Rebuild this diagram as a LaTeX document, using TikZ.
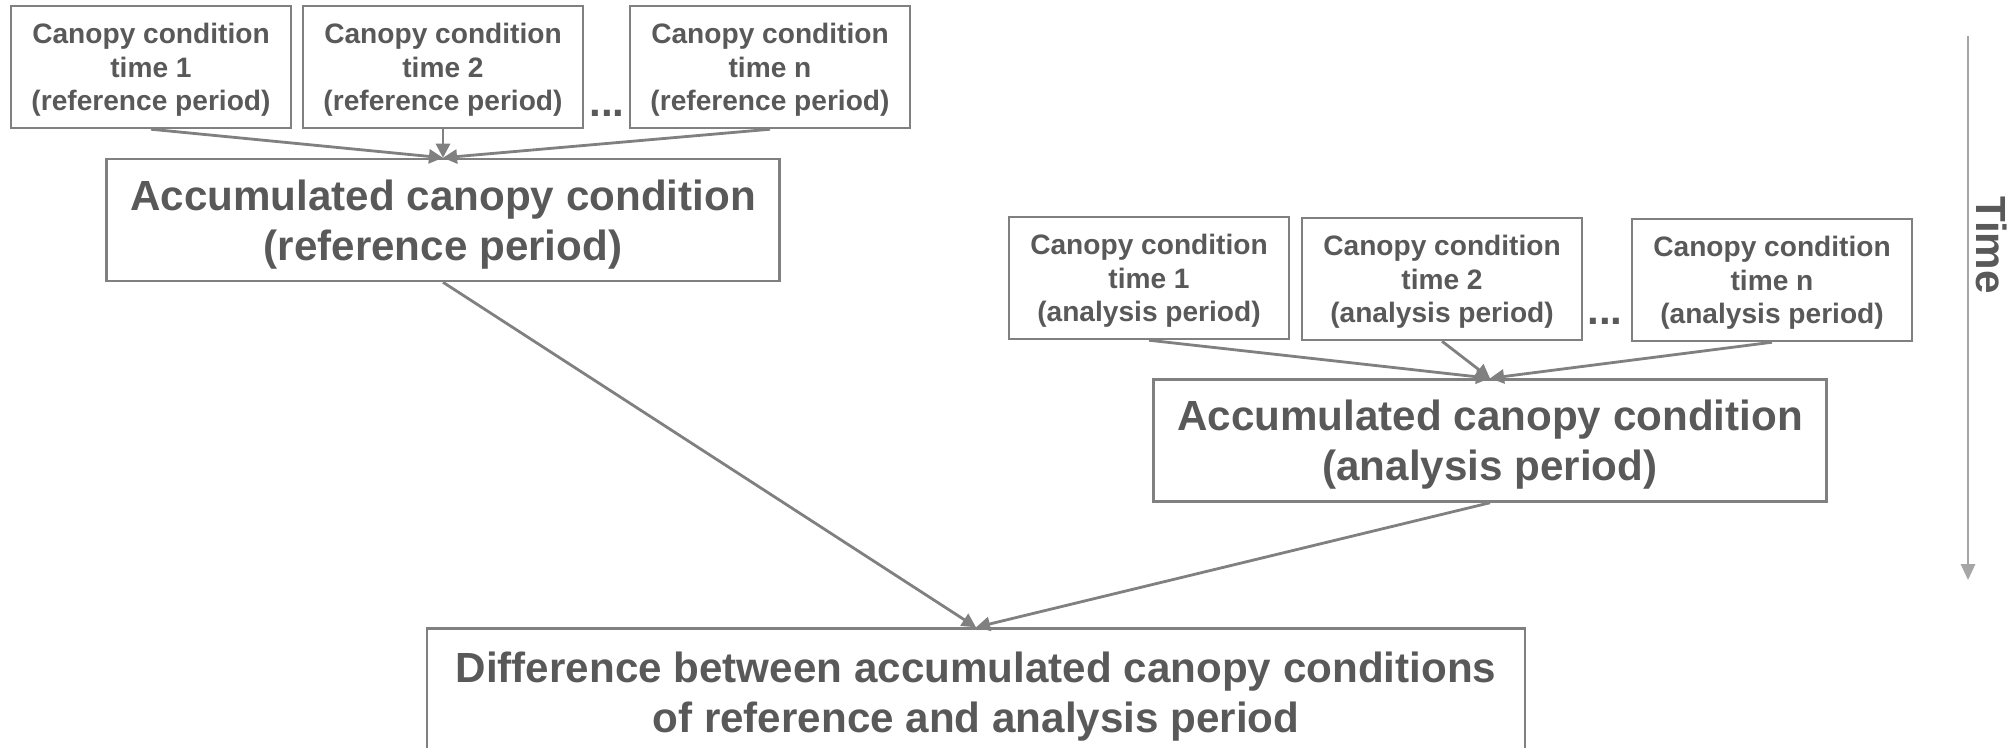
\documentclass[tikz,border=0pt]{standalone}
\usepackage{fontspec}
\setmainfont{Liberation Sans}
\usepackage{xcolor}
\usepackage{tikz}
\usetikzlibrary{shapes,arrows.meta,positioning,calc}
\definecolor{textgray}{RGB}{89,89,89}
\definecolor{linegray}{RGB}{128,128,128}
\definecolor{timegray}{RGB}{166,166,166}

\begin{document}
\begin{tikzpicture}[
    smallbox/.style={draw=linegray, line width=0.7pt, rectangle, minimum width=2.8cm, minimum height=1.22cm, align=center, inner sep=0pt, text depth=0pt, text=textgray, font=\fontsize{8}{9.5}\selectfont\bfseries},
    accbox/.style={draw=linegray, line width=0.7pt, rectangle, minimum width=6.73cm, minimum height=1.22cm, align=center, inner sep=0pt, text depth=0pt, text=textgray, font=\fontsize{12}{14.2}\selectfont\bfseries},
    dots/.style={text=textgray, inner sep=0pt, font=\fontsize{12}{14}\selectfont\bfseries},
    link/.style={draw=linegray, line width=0.8pt, -{Triangle[length=4pt, width=4pt]}}
]
\useasboundingbox (0,0) rectangle (20.13,-7.47);

% Reference period
\node[smallbox] (ref1) at (1.51,-0.67) {Canopy condition\\time 1\\(reference period)};
\node[smallbox] (ref2) at (4.43,-0.67) {Canopy condition\\time 2\\(reference period)};
\node[smallbox] (refn) at (7.70,-0.67) {Canopy condition\\time n\\(reference period)};
\node[dots] (refdots) at (6.07,-1.13) {...};
\node[accbox] (accref) at (4.43,-2.20) {Accumulated canopy condition\\(reference period)};

% Analysis period
\node[smallbox] (ana1) at (11.49,-2.78) {Canopy condition\\time 1\\(analysis period)};
\node[smallbox] (ana2) at (14.42,-2.79) {Canopy condition\\time 2\\(analysis period)};
\node[smallbox] (anan) at (17.72,-2.80) {Canopy condition\\time n\\(analysis period)};
\node[dots] (anadots) at (16.05,-3.21) {...};
\node[accbox] (accana) at (14.90,-4.405) {Accumulated canopy condition\\(analysis period)};

% Difference
\node[accbox, minimum width=10.98cm, minimum height=1.27cm] (diff) at (9.76,-6.92) {Difference between accumulated canopy conditions\\of reference and analysis period};

% Time axis
\coordinate (tstart) at (19.68,-0.36);
\coordinate (tend) at (19.68,-5.80);
\node[text=textgray, rotate=-90, inner sep=0pt, font=\fontsize{12}{14}\selectfont\bfseries] (time) at (19.92,-2.45) {Time};
\draw[draw=timegray, line width=0.7pt, -{Triangle[length=4.5pt, width=4pt]}] (tstart) -- (tend);

% Connections
\draw[link] (ref1.south) -- (accref.north);
\draw[link] (ref2.south) -- (accref.north);
\draw[link] (refn.south) -- (accref.north);
\draw[link] (ana1.south) -- (accana.north);
\draw[link] (ana2.south) -- (accana.north);
\draw[link] (anan.south) -- (accana.north);
\draw[link] (accref.south) -- (diff.north);
\draw[link] (accana.south) -- (diff.north);

\end{tikzpicture}
\end{document}
